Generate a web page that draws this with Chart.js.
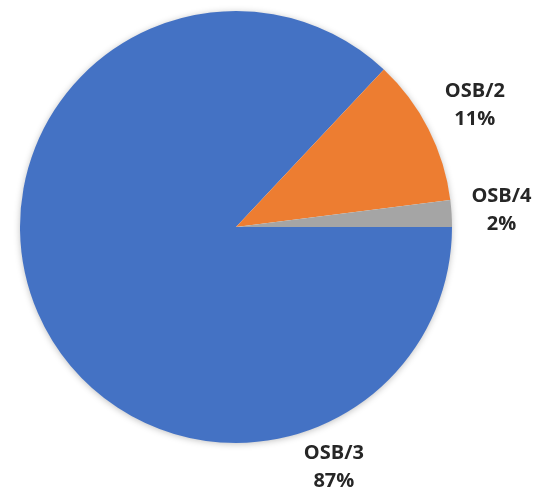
<!DOCTYPE html>
<html>
<head>
<meta charset="utf-8">
<script src="https://cdn.jsdelivr.net/npm/chart.js@4/dist/chart.umd.min.js"></script>
<style>
  html, body { margin: 0; padding: 0; background: #ffffff; }
  #wrap { width: 550px; height: 502px; position: relative; }
</style>
</head>
<body>
<div id="wrap"><canvas id="c" width="550" height="502"></canvas></div>
<script>
const categories = ["OSB/3", "OSB/2", "OSB/4"];
const shares = [87, 11, 2];
const sliceColors = ["#4472C4", "#ED7D31", "#A5A5A5"];
// label placement: angle (deg, clockwise from top; null = slice middle) and gap beyond the rim
const labelAngles = [157.8, null, null];
const labelGaps = [43, 52, 50];

const shadowPlugin = {
  id: 'pieShadow',
  beforeDatasetsDraw(chart) {
    const arc = chart.getDatasetMeta(0).data[0];
    if (!arc) return;
    const ctx = chart.ctx;
    ctx.save();
    ctx.shadowColor = 'rgba(0,0,0,0.28)';
    ctx.shadowBlur = 7;
    ctx.shadowOffsetX = 0;
    ctx.shadowOffsetY = 1;
    ctx.fillStyle = '#ffffff';
    ctx.beginPath();
    ctx.arc(arc.x, arc.y, arc.outerRadius - 0.5, 0, Math.PI * 2);
    ctx.fill();
    ctx.restore();
  }
};

const labelPlugin = {
  id: 'outerLabels',
  afterDatasetsDraw(chart) {
    const meta = chart.getDatasetMeta(0);
    const ctx = chart.ctx;
    ctx.save();
    ctx.font = 'bold 20px "Open Sans", "Liberation Sans", sans-serif';
    ctx.fillStyle = '#262626';
    ctx.textAlign = 'center';
    ctx.textBaseline = 'middle';
    meta.data.forEach((arc, i) => {
      let ang;
      if (labelAngles[i] === null) {
        ang = (arc.startAngle + arc.endAngle) / 2;
      } else {
        ang = labelAngles[i] * Math.PI / 180 - Math.PI / 2;
      }
      const d = arc.outerRadius + labelGaps[i];
      const x = arc.x + Math.cos(ang) * d;
      const y = arc.y + Math.sin(ang) * d;
      ctx.fillText(categories[i], x, y - 14);
      ctx.fillText(shares[i] + '%', x, y + 14);
    });
    ctx.restore();
  }
};

new Chart(document.getElementById('c'), {
  type: 'pie',
  data: {
    labels: categories,
    datasets: [{
      data: shares,
      backgroundColor: sliceColors,
      borderWidth: 0
    }]
  },
  options: {
    responsive: false,
    animation: false,
    rotation: 90,
    layout: { padding: { left: 20, right: 98, top: 11, bottom: 59 } },
    plugins: {
      legend: { display: false },
      tooltip: { enabled: false },
      title: { display: false }
    }
  },
  plugins: [shadowPlugin, labelPlugin]
});
</script>
</body>
</html>
